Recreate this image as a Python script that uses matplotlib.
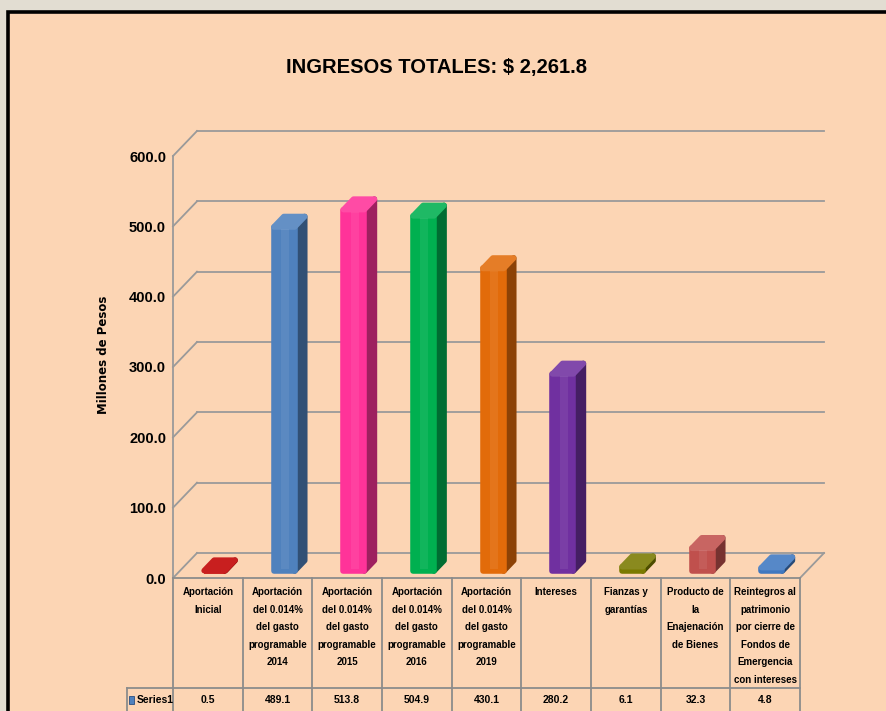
import numpy as np
import matplotlib.pyplot as plt
from matplotlib.patches import Polygon, Rectangle
from matplotlib.colors import to_rgb

categories = [
    "Aportación\nInicial",
    "Aportación\ndel 0.014%\ndel gasto\nprogramable\n2014",
    "Aportación\ndel 0.014%\ndel gasto\nprogramable\n2015",
    "Aportación\ndel 0.014%\ndel gasto\nprogramable\n2016",
    "Aportación\ndel 0.014%\ndel gasto\nprogramable\n2019",
    "Intereses",
    "Fianzas y\ngarantías",
    "Producto de\nla\nEnajenación\nde Bienes",
    "Reintegros al\npatrimonio\npor cierre de\nFondos de\nEmergencia\ncon intereses",
]
values = [0.5, 489.1, 513.8, 504.9, 430.1, 280.2, 6.1, 32.3, 4.8]
bar_colors = ["#c00000", "#4f81bd", "#ff3399", "#00b050", "#e26b0a",
              "#7030a0", "#7a7a00", "#c0504d", "#3f78c0"]
yticks = [0, 100, 200, 300, 400, 500, 600]
title = "INGRESOS TOTALES: $ 2,261.8"

font = ["Liberation Sans", "DejaVu Sans"]
bg = "#fcd5b4"
grid_c = "#9a9a9a"

fig = plt.figure(figsize=(8.87, 7.11), dpi=100, facecolor="#e2ddd2")
fig.patches.append(Rectangle((8 / 887, -0.1), 1.2, 1.1 - 12 / 711,
                             transform=fig.transFigure, facecolor=bg,
                             edgecolor="black", linewidth=2.6, zorder=-5))

ax = fig.add_axes([173 / 887, 133 / 711, 627 / 887, 422 / 711])
ax.set_xlim(0, 9)
ax.set_ylim(0, 600)
ax.patch.set_visible(False)
for s in ax.spines.values():
    s.set_visible(False)
ax.set_xticks([])
ax.set_yticks(yticks)
ax.set_yticklabels([f"{v:.1f}" for v in yticks], fontfamily=font,
                   fontweight="bold", fontsize=10.5)
ax.tick_params(axis="y", length=0, pad=5)

# depth of the 3d box, in data units
n = len(values)
DX = 24 * n / 627
DY = 25 * 600 / 422

# back wall gridlines + left wall diagonals
for v in yticks:
    ax.plot([DX, n + DX], [v + DY, v + DY], color=grid_c, lw=1.3, clip_on=False, zorder=1)
    ax.plot([0, DX], [v, v + DY], color=grid_c, lw=1.3, clip_on=False, zorder=1)
ax.plot([0, 0], [0, 600], color=grid_c, lw=1.3, clip_on=False, zorder=1)
ax.plot([n, n + DX], [0, DY], color=grid_c, lw=1.3, clip_on=False, zorder=1)

# bars as oblique boxes with softened corners
f1, f2 = 0.28, 0.70
hw = 0.15
for i, (v, col) in enumerate(zip(values, bar_colors)):
    c = i + 0.5
    base = np.array(to_rgb(col))
    dark = base * 0.62
    light = base + (1 - base) * 0.12
    x1, y1 = c + f1 * DX, f1 * DY
    x2, y2 = c + f2 * DX, f2 * DY
    front = [(x1 - hw, y1), (x1 + hw, y1), (x1 + hw, y1 + v), (x1 - hw, y1 + v)]
    side = [(x1 + hw, y1), (x2 + hw, y2), (x2 + hw, y2 + v), (x1 + hw, y1 + v)]
    top = [(x1 - hw, y1 + v), (x1 + hw, y1 + v), (x2 + hw, y2 + v), (x2 - hw, y2 + v)]
    for pts, fc in [(side, dark), (front, base), (top, light)]:
        ax.add_patch(Polygon(pts, closed=True, facecolor=fc, edgecolor=fc,
                             lw=4, joinstyle="round", clip_on=False, zorder=3))
    if v > 20:
        strip = [(x1 - hw * 0.3, y1 + 3), (x1 + hw * 0.45, y1 + 3),
                 (x1 + hw * 0.45, y1 + v - 3), (x1 - hw * 0.3, y1 + v - 3)]
        ax.add_patch(Polygon(strip, closed=True, facecolor="white", edgecolor="none",
                             alpha=0.07, clip_on=False, zorder=3.5))

# data table under the plot
tr = ax.get_xaxis_transform()
row1 = -110 / 422
row2 = -0.34
lbl_x = -46 * n / 627
tab_c = "#8c8c8c"
ax.plot([0, n], [0, 0], color=tab_c, lw=1.3, transform=tr, clip_on=False)
ax.plot([lbl_x, n], [row1, row1], color=tab_c, lw=1.3, transform=tr, clip_on=False)
for k in range(n + 1):
    ax.plot([k, k], [0, row2], color=tab_c, lw=1.3, transform=tr, clip_on=False)
ax.plot([lbl_x, lbl_x], [row1, row2], color=tab_c, lw=1.3, transform=tr, clip_on=False)

for i, (lab, v) in enumerate(zip(categories, values)):
    ax.text(i + 0.5, -9 / 422, lab, transform=tr, ha="center", va="top",
            fontfamily=font, fontweight="bold", fontsize=7, linespacing=1.95)
    ax.text(i + 0.5, -122 / 422, f"{v:.1f}", transform=tr, ha="center", va="center",
            fontfamily=font, fontweight="bold", fontsize=7.5)

ax.add_patch(Rectangle((lbl_x + 0.03, -126 / 422), 0.07, 8 / 422, transform=tr,
                       facecolor="#4f81bd", edgecolor="#2b4f80", lw=0.6, clip_on=False))
ax.text(lbl_x + 0.14, -122 / 422, "Series1", transform=tr, ha="left", va="center",
        fontfamily=font, fontweight="bold", fontsize=7.5)

fig.text(437 / 887, 1 - 67 / 711, title, ha="center", va="center",
         fontfamily=font, fontweight="bold", fontsize=14.5)
fig.text(104 / 887, 1 - 355 / 711, "Millones de Pesos", rotation=90,
         ha="center", va="center", fontfamily="DejaVu Sans", fontweight="bold", fontsize=8.5)

fig.savefig("out.png", dpi=100, facecolor=fig.get_facecolor())
